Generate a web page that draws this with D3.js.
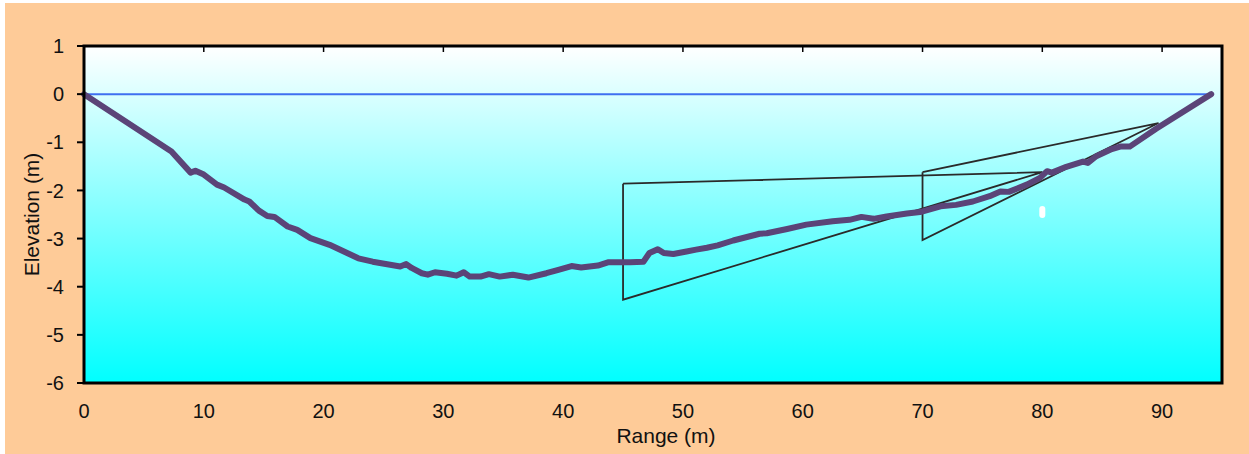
<!DOCTYPE html>
<html>
<head>
<meta charset="utf-8">
<script src="https://cdn.jsdelivr.net/npm/d3@7"></script>
<style>
  html, body { margin: 0; padding: 0; background: #ffffff; }
  svg { display: block; }
  text { font-family: "Liberation Sans", Arial, sans-serif; fill: #111; }
</style>
</head>
<body>
<svg id="chart" width="1249" height="454"></svg>
<script>
// ---- Data ----
const profileX = [0, 7.3, 8.9, 9.3, 10.0, 11.1, 11.7, 13.4, 13.8, 14.6, 15.3, 15.9, 17.0, 17.8, 18.9, 20.5,
  22.9, 24.1, 26.4, 26.9, 27.35, 28.2, 28.7, 29.3, 30.3, 31.1, 31.7, 32.2, 33.1, 33.8, 34.7, 35.8,
  37.1, 38.6, 39.6, 40.7, 41.5, 42.9, 43.8, 45.6, 46.7, 47.2, 47.9, 48.4, 49.2, 50.3, 51.1, 52.0,
  52.9, 54.2, 56.4, 57.0, 58.7, 60.3, 62.5, 63.9, 64.9, 65.9, 67.0, 68.7, 69.8, 71.5, 72.8, 74.2,
  75.6, 76.5, 77.2, 78.7, 79.8, 80.4, 80.8, 82.0, 83.4, 83.8, 84.5, 85.8, 86.5, 87.3, 89.5, 94.1];
const profileY = [0, -1.19, -1.63, -1.59, -1.67, -1.88, -1.94, -2.19, -2.23, -2.42, -2.53, -2.55, -2.75, -2.82, -2.99, -3.13,
  -3.41, -3.48, -3.58, -3.53, -3.61, -3.72, -3.75, -3.70, -3.73, -3.77, -3.70, -3.79, -3.79, -3.74, -3.79, -3.75,
  -3.81, -3.72, -3.65, -3.57, -3.60, -3.56, -3.49, -3.49, -3.48, -3.30, -3.22, -3.30, -3.32, -3.27, -3.23, -3.19,
  -3.14, -3.04, -2.90, -2.89, -2.80, -2.71, -2.64, -2.61, -2.55, -2.59, -2.54, -2.48, -2.45, -2.33, -2.30, -2.23,
  -2.12, -2.02, -2.03, -1.88, -1.74, -1.60, -1.63, -1.51, -1.40, -1.43, -1.29, -1.14, -1.09, -1.09, -0.72, 0.0];

const waterX = [0, 94.1];
const waterY = [0, 0];

const triangle1X = [45, 45, 80, 45];
const triangle1Y = [-1.86, -4.27, -1.62, -1.86];
const triangle2X = [70, 70, 89.7, 70];
const triangle2Y = [-1.62, -3.03, -0.60, -1.62];

const markerX = [80];
const markerY = [-2.45];

const xTicks = [0, 10, 20, 30, 40, 50, 60, 70, 80, 90];
const yTicks = [1, 0, -1, -2, -3, -4, -5, -6];
const xTitle = "Range (m)";
const yTitle = "Elevation (m)";

// ---- Layout ----
const svg = d3.select("#chart");
const L = 84, R = 1222, T = 46, B = 383;

const x = d3.scaleLinear().domain([0, 95]).range([L, R]);
const y = d3.scaleLinear().domain([-6, 1]).range([B, T]);

// outer background
svg.append("rect").attr("x", 5).attr("y", 3).attr("width", 1244).attr("height", 451).attr("fill", "#FECB98");

// plot gradient
const defs = svg.append("defs");
const grad = defs.append("linearGradient").attr("id", "bg").attr("x1", 0).attr("y1", 0).attr("x2", 0).attr("y2", 1);
grad.append("stop").attr("offset", "0%").attr("stop-color", "#ffffff");
grad.append("stop").attr("offset", "100%").attr("stop-color", "#00ffff");
svg.append("rect").attr("x", L).attr("y", T).attr("width", R - L).attr("height", B - T).attr("fill", "url(#bg)");

const line = d3.line().x(d => x(d[0])).y(d => y(d[1]));
const zip = (a, b) => a.map((v, i) => [v, b[i]]);

// water level
svg.append("path").attr("d", line(zip(waterX, waterY))).attr("fill", "none")
  .attr("stroke", "#3f6ff0").attr("stroke-width", 2);

// triangles
[[triangle1X, triangle1Y], [triangle2X, triangle2Y]].forEach(([tx, ty]) => {
  svg.append("path").attr("d", line(zip(tx, ty))).attr("fill", "none")
    .attr("stroke", "#2a2a2a").attr("stroke-width", 1.8).attr("stroke-linejoin", "miter");
});

// profile
svg.append("path").attr("d", line(zip(profileX, profileY))).attr("fill", "none")
  .attr("stroke", "#5b4478").attr("stroke-width", 6).attr("stroke-linejoin", "round").attr("stroke-linecap", "round");

// marker
markerX.forEach((mx, i) => {
  svg.append("rect").attr("x", x(mx) - 3).attr("y", y(markerY[i]) - 6).attr("width", 6).attr("height", 12)
    .attr("rx", 3).attr("fill", "#ffffff");
});

// frame
svg.append("rect").attr("x", L).attr("y", T).attr("width", R - L).attr("height", B - T)
  .attr("fill", "none").attr("stroke", "#000").attr("stroke-width", 3);

// y axis ticks + labels
yTicks.forEach(t => {
  svg.append("line").attr("x1", L - 7).attr("x2", L).attr("y1", y(t)).attr("y2", y(t))
    .attr("stroke", "#000").attr("stroke-width", 2);
  svg.append("text").attr("x", L - 20).attr("y", y(t)).attr("dy", "0.36em")
    .attr("text-anchor", "end").attr("font-size", 20).text(t);
});

// x axis ticks (top, inward) + labels (bottom)
xTicks.forEach(t => {
  if (t > 0) {
    svg.append("line").attr("x1", x(t)).attr("x2", x(t)).attr("y1", T).attr("y2", T + 6)
      .attr("stroke", "#000").attr("stroke-width", 1.5);
  }
  svg.append("text").attr("x", x(t)).attr("y", 418)
    .attr("text-anchor", "middle").attr("font-size", 20).text(t);
});

// titles
svg.append("text").attr("x", 666).attr("y", 443).attr("text-anchor", "middle").attr("font-size", 21).text(xTitle);
svg.append("text").attr("transform", `translate(39,${(T + B) / 2}) rotate(-90)`)
  .attr("text-anchor", "middle").attr("font-size", 21).text(yTitle);
</script>
</body>
</html>
